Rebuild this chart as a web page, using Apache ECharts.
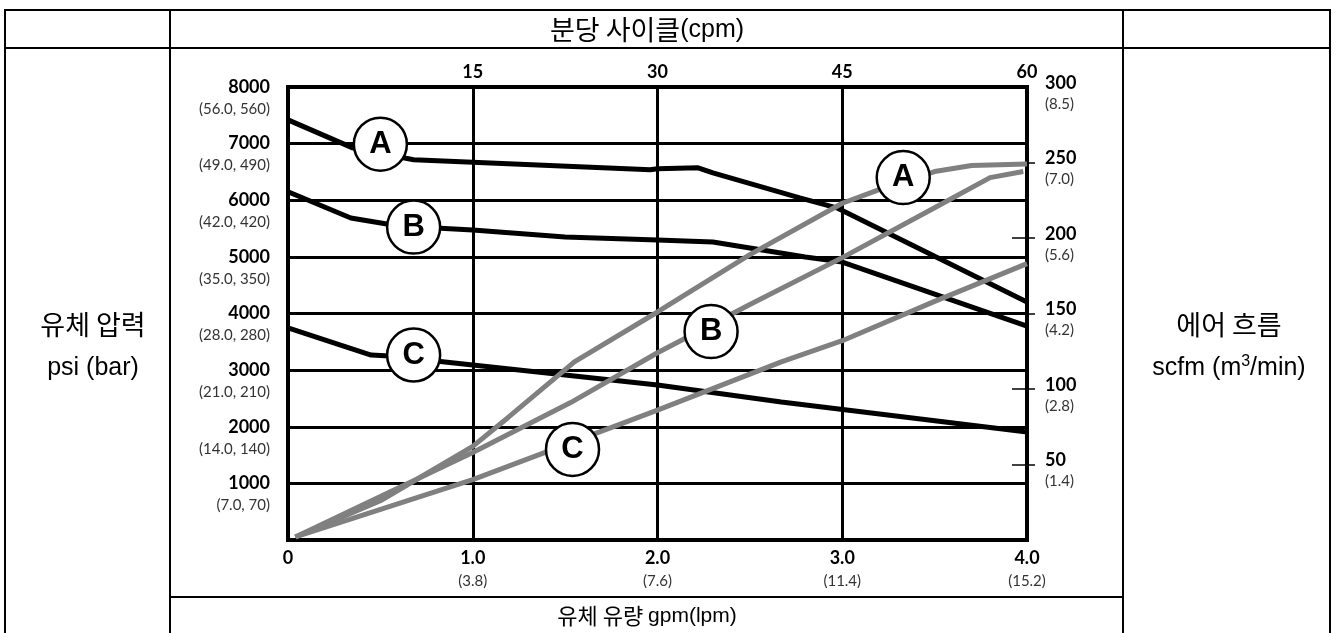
<!DOCTYPE html>
<html>
<head>
<meta charset="utf-8">
<script src="https://cdn.jsdelivr.net/npm/echarts@6/dist/echarts.min.js"></script>
<style>
  html, body { margin: 0; padding: 0; background: #fff; }
  #chart { width: 1338px; height: 633px; }
</style>
</head>
<body>
<div id="chart"></div>
<script>
// pressure curves (psi vs gpm), black
const aGpm = [0, 0.35, 0.68, 1.96, 2.0, 2.22, 2.30, 2.77, 2.97, 4.0];
const aPsi = [7420, 6925, 6714, 6537, 6555, 6572, 6484, 6042, 5866, 4205];
const bGpm = [0, 0.34, 0.6, 1.0, 1.5, 2.0, 2.3, 2.8, 3.0, 4.0];
const bPsi = [6150, 5687, 5545, 5475, 5351, 5298, 5263, 4998, 4909, 3779];
const cGpm = [0, 0.45, 0.55, 1.0, 2.0, 2.67, 4.0];
const cPsi = [3744, 3267, 3250, 3090, 2737, 2437, 1907];

// air flow curves (scfm vs gpm), gray
const aAirGpm = [0.04, 0.5, 1.0, 1.19, 1.55, 2.0, 2.5, 3.0, 3.2, 3.5, 3.7, 4.0];
const aScfm = [2, 26, 62, 81, 118, 151, 189, 223, 232, 244, 248, 249];
const bAirGpm = [0.04, 1.0, 1.53, 2.0, 2.5, 3.0, 3.5, 3.8, 3.98];
const bScfm = [2, 58, 91, 124, 156, 187, 220, 240, 244];
const cAirGpm = [0.04, 1.0, 2.0, 2.67, 3.0, 3.5, 4.0];
const cScfm = [2, 40, 86, 118, 132, 158, 183];

// curve tags
const tagLetters = ['A', 'B', 'C'];
const psiTagGpm = [0.50, 0.68, 0.68];
const psiTagVal = [6990, 5527, 3267];
const airTagGpm = [3.33, 2.29, 1.54];
const airTagVal = [240, 138, 60];

// tick labels
const psiSub = {1000: '(7.0, 70)', 2000: '(14.0, 140)', 3000: '(21.0, 210)', 4000: '(28.0, 280)',
  5000: '(35.0, 350)', 6000: '(42.0, 420)', 7000: '(49.0, 490)', 8000: '(56.0, 560)'};
const gpmSub = {1: '(3.8)', 2: '(7.6)', 3: '(11.4)', 4: '(15.2)'};
const scfmSub = {50: '(1.4)', 100: '(2.8)', 150: '(4.2)', 200: '(5.6)', 250: '(7.0)', 300: '(8.5)'};

const zip = (xs, ys) => xs.map((x, i) => [x, ys[i]]);
const numFont = 'Lato';
const main = { fontFamily: numFont, fontWeight: 'bold', fontSize: 18, color: '#000', lineHeight: 22 };
const sub = { fontFamily: numFont, fontSize: 15, color: '#333', lineHeight: 22 };

const chart = echarts.init(document.getElementById('chart'));

function curve(data, yIdx, color) {
  return {
    type: 'line', data, xAxisIndex: 0, yAxisIndex: yIdx,
    symbol: 'none', lineStyle: { color, width: 5 }, z: 3
  };
}

function tags(xs, ys, yIdx) {
  return {
    type: 'scatter', xAxisIndex: 0, yAxisIndex: yIdx,
    data: xs.map((x, i) => ({ value: [x, ys[i]], name: tagLetters[i] })),
    symbolSize: 53, z: 5,
    itemStyle: { color: '#fff', borderColor: '#000', borderWidth: 2.5, opacity: 1 },
    label: {
      show: true, position: 'inside', formatter: p => p.name,
      fontFamily: 'Liberation Sans', fontWeight: 'bold', fontSize: 31, color: '#000'
    }
  };
}

// table cell text: Korean part + Latin part
const cellRich = {
  k: { fontFamily: 'Noto Sans CJK KR', fontSize: 27, color: '#000' },
  l: { fontFamily: 'Liberation Sans', fontSize: 25, color: '#000' },
  kt: { fontFamily: 'Noto Sans CJK KR', fontSize: 27, color: '#000' },
  lt: { fontFamily: 'Liberation Sans', fontSize: 25, color: '#000' },
  kb: { fontFamily: 'Noto Sans CJK KR', fontSize: 22, color: '#000' },
  lb: { fontFamily: 'Liberation Sans', fontSize: 21, color: '#000' },
  s: { fontFamily: 'Liberation Sans', fontSize: 16, color: '#000', verticalAlign: 'top', padding: [0, 0, 12, 0] }
};
const cellText = (x, y, text) => ({
  type: 'text', x, y, z: 10,
  style: { text, rich: cellRich, align: 'center', verticalAlign: 'middle' }
});
const rule = (x1, y1, x2, y2) => ({
  type: 'line', shape: { x1, y1, x2, y2 }, style: { stroke: '#000', lineWidth: 2 }
});

chart.setOption({
  animation: false,
  grid: [
    { left: 288, right: 311, top: 87, bottom: 93, show: true, borderColor: '#000', borderWidth: 4, backgroundColor: 'transparent' },
    // narrow strip across the right axis (50..250 scfm): its split lines are the tick marks
    { left: 1012, right: 303, top: 162.5, bottom: 168.5 }
  ],
  xAxis: [
    {
      type: 'value', position: 'bottom', min: 0, max: 4, interval: 1,
      axisLine: { lineStyle: { color: '#000', width: 4 } },
      axisTick: { show: false },
      splitLine: { show: true, lineStyle: { color: '#000', width: 3 } },
      axisLabel: {
        margin: 7,
        formatter: v => v === 0 ? '{a|0}' : `{a|${v.toFixed(1)}}\n{b|${gpmSub[v]}}`,
        rich: { a: main, b: { ...sub, lineHeight: 24 } }
      }
    },
    {
      type: 'value', position: 'top', min: 0, max: 60, interval: 15,
      axisLine: { lineStyle: { color: '#000', width: 4 } },
      axisTick: { show: false },
      splitLine: { show: false },
      axisLabel: {
        margin: 6, formatter: v => v === 0 ? '' : String(v),
        fontFamily: numFont, fontWeight: 'bold', fontSize: 18, color: '#000'
      }
    },
    { type: 'value', gridIndex: 1, min: 0, max: 1, show: false }
  ],
  yAxis: [
    {
      type: 'value', position: 'left', min: 0, max: 8000, interval: 1000,
      axisLine: { show: true, lineStyle: { color: '#000', width: 4 } },
      axisTick: { show: false },
      splitLine: { show: true, lineStyle: { color: '#000', width: 3 } },
      axisLabel: {
        margin: 18, verticalAlign: 'middle',
        formatter: v => v === 0 ? '' : `{e| }\n{a|${v}}\n{b|${psiSub[v]}}`,
        rich: { e: { lineHeight: 22, fontSize: 10 }, a: main, b: sub }
      }
    },
    {
      type: 'value', position: 'right', min: 0, max: 300, interval: 50,
      axisLine: { show: true, lineStyle: { color: '#000', width: 4 } },
      axisTick: { show: false },
      splitLine: { show: false },
      axisLabel: {
        margin: 18, verticalAlign: 'middle', align: 'left',
        formatter: v => v === 0 ? '' : `{e| }\n{a|${v}}\n{b|${scfmSub[v]}}`,
        rich: { e: { lineHeight: 13, fontSize: 8 }, a: { ...main, lineHeight: 21 }, b: { ...sub, lineHeight: 21 } }
      }
    },
    {
      type: 'value', gridIndex: 1, min: 50, max: 250, interval: 50,
      axisLine: { show: false }, axisTick: { show: false }, axisLabel: { show: false },
      splitLine: { show: true, lineStyle: { color: '#000', width: 1.5 } }
    }
  ],
  series: [
    curve(zip(aGpm, aPsi), 0, '#000'),
    curve(zip(bGpm, bPsi), 0, '#000'),
    curve(zip(cGpm, cPsi), 0, '#000'),
    curve(zip(aAirGpm, aScfm), 1, '#808080'),
    curve(zip(bAirGpm, bScfm), 1, '#808080'),
    curve(zip(cAirGpm, cScfm), 1, '#808080'),
    tags(psiTagGpm, psiTagVal, 0),
    tags(airTagGpm, airTagVal, 1)
  ],
  graphic: [
    { type: 'rect', shape: { x: 5, y: 10, width: 1325, height: 700 }, style: { fill: 'none', stroke: '#000', lineWidth: 2 } },
    rule(5, 48, 1330, 48),
    rule(170, 10, 170, 640),
    rule(1123, 10, 1123, 640),
    rule(170, 597, 1123, 597),
    cellText(647, 30, '{kt|분당 사이클}{lt|(cpm)}'),
    cellText(647, 616, '{kb|유체 유량 }{lb|gpm(lpm)}'),
    cellText(93, 325, '{k|유체 압력}'),
    cellText(93, 368, '{l|psi (bar)}'),
    cellText(1229, 325, '{k|에어 흐름}'),
    cellText(1229, 368, '{l|scfm (m}{s|3}{l|/min)}')
  ]
});
</script>
</body>
</html>
